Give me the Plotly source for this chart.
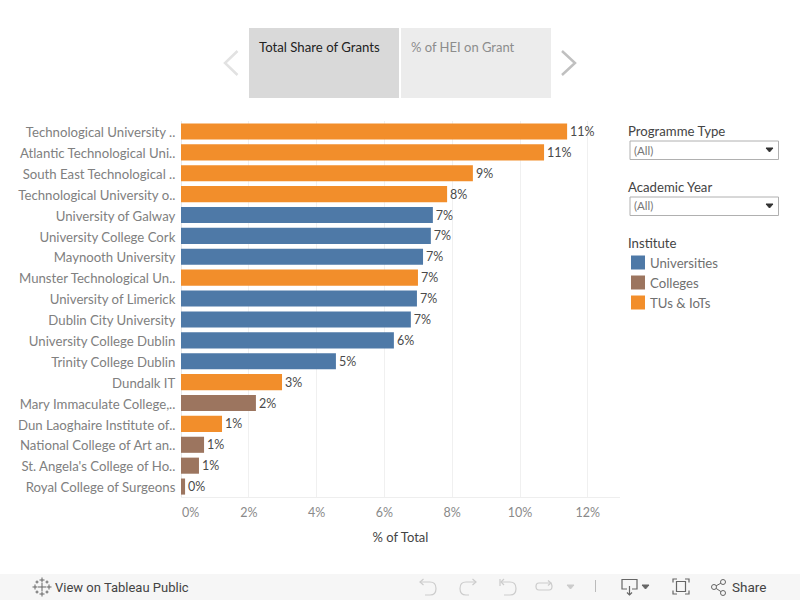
import plotly.graph_objects as go

institutes = ["Technological University ..", "Atlantic Technological Uni..", "South East Technological ..",
              "Technological University o..", "University of Galway", "University College Cork",
              "Maynooth University", "Munster Technological Un..", "University of Limerick",
              "Dublin City University", "University College Dublin", "Trinity College Dublin",
              "Dundalk IT", "Mary Immaculate College,..", "Dun Laoghaire Institute of..",
              "National College of Art an..", "St. Angela's College of Ho..", "Royal College of Surgeons"]
shares = [11.39, 10.71, 8.61, 7.85, 7.43, 7.37, 7.14, 6.99, 6.96, 6.78, 6.28, 4.57, 2.98, 2.21, 1.21, 0.68, 0.53, 0.12]
groups = ["T", "T", "T", "T", "U", "U", "U", "T", "U", "U", "U", "U", "T", "C", "T", "C", "C", "C"]
group_names = {"U": "Universities", "C": "Colleges", "T": "TUs & IoTs"}
group_colors = {"U": "#4e79a7", "C": "#9c755f", "T": "#f28e2b"}
x_ticks = [2, 4, 6, 8, 10, 12]

FONT = "Lato"
W, H = 800, 600
def X(p): return p / W
def Y(p): return 1 - p / H

fig = go.Figure()
for key in ["U", "C", "T"]:
    idx = [i for i, g in enumerate(groups) if g == key]
    fig.add_trace(go.Bar(
        y=[institutes[i] for i in idx], x=[shares[i] for i in idx], orientation="h",
        name=group_names[key], marker=dict(color=group_colors[key], line_width=0), width=0.77,
        texttemplate="%{x:.0f}%", textposition="outside", cliponaxis=False,
        textfont=dict(family=FONT, size=12.5, color="#4a4a4a"), showlegend=False))

shapes, notes = [], []
def rect(x0, y0, x1, y1, fill=None, line=None, lw=1):
    shapes.append(dict(type="rect", xref="paper", yref="paper", x0=X(x0), x1=X(x1), y0=Y(y0), y1=Y(y1),
                       fillcolor=fill or "rgba(0,0,0,0)", line=dict(color=line or "rgba(0,0,0,0)", width=lw if line else 0), layer="below"))
def poly(pts, color, lw=1.0, fill=None, close=False):
    d = "M" + " L".join(f"{X(a):.5f},{Y(b):.5f}" for a, b in pts) + (" Z" if close else "")
    shapes.append(dict(type="path", xref="paper", yref="paper", path=d, line=dict(color=color, width=lw),
                       fillcolor=fill or "rgba(0,0,0,0)"))
def curve(start, segs, color, lw=1.2):
    # segs: (cx, cy, x, y) quadratic pieces, or (x, y) straight pieces
    d = f"M{X(start[0]):.5f},{Y(start[1]):.5f}"
    for s in segs:
        if len(s) == 4:
            d += f" Q{X(s[0]):.5f},{Y(s[1]):.5f} {X(s[2]):.5f},{Y(s[3]):.5f}"
        else:
            d += f" L{X(s[0]):.5f},{Y(s[1]):.5f}"
    shapes.append(dict(type="path", xref="paper", yref="paper", path=d, line=dict(color=color, width=lw), fillcolor="rgba(0,0,0,0)"))
def text(x, y, s, color="#555555", size=13, anchor="left", family=FONT):
    notes.append(dict(xref="paper", yref="paper", x=X(x - 2), y=Y(y), text=s, showarrow=False, xanchor=anchor, yanchor="middle",
                      font=dict(family=family, size=size, color=color)))

# story navigator
rect(249, 28, 399, 98, "#d9d9d9")
rect(401, 28, 551, 98, "#ececec")
text(259, 47.5, "Total Share of Grants", "#222222", 13.2)
text(411, 47.5, "% of HEI on Grant", "#8c8c8c", 13)
poly([(237.5, 51), (225, 63), (237.5, 75)], "#e2e2e2", 2.5)
poly([(562, 51), (575, 63), (562, 75)], "#c0c0c0", 2.5)

# filters
text(628, 131, "Programme Type", "#444444", 13.2)
rect(630, 141, 778.5, 159.5, "#ffffff", "#b0b0b0")
text(634, 150, "(All)", "#777777", 11.5)
poly([(766, 148), (773, 148), (769.5, 152)], "#333333", 1, "#333333", True)
text(628, 187, "Academic Year", "#444444", 13.2)
rect(630, 197, 778.5, 215.5, "#ffffff", "#b0b0b0")
text(634, 206, "(All)", "#777777", 11.5)
poly([(766, 204), (773, 204), (769.5, 208)], "#333333", 1, "#333333", True)

# legend
text(628, 243, "Institute", "#444444", 13.2)
for k, ty in zip(["U", "C", "T"], [262.5, 282.5, 302.5]):
    rect(631, ty - 7, 645, ty + 7, group_colors[k])
    text(650, ty, group_names[k], "#707070", 13.2)

# toolbar
rect(0, 574, 800, 600, "#f6f6f6")
text(55, 587, "View on Tableau Public", "#444444", 13, family="Roboto")
text(732, 587, "Share", "#444444", 13.5, family="Roboto")
gr = "#cccccc"; dk = "#666666"
for cx, cy, r in [(42, 587, 4), (42, 580, 2.5), (42, 594, 2.5), (35, 587, 2.5), (49, 587, 2.5), (37, 582, 1.5), (47, 582, 1.5), (37, 592, 1.5), (47, 592, 1.5)]:
    poly([(cx - r, cy), (cx + r, cy)], dk, 1)
    poly([(cx, cy - r), (cx, cy + r)], dk, 1)
# undo
curve((420, 582), [(430, 582), (436, 582, 436, 588.5), (436, 595, 430, 595), (425, 595)], gr)
poly([(423.5, 579), (420, 582), (423.5, 585)], gr, 1.2)
# redo
curve((476, 582), [(466, 582), (460, 582, 460, 588.5), (460, 595, 466, 595), (469, 595)], gr)
poly([(472.5, 579), (476, 582), (472.5, 585)], gr, 1.2)
# undo all
curve((501, 582), [(510, 582), (516, 582, 516, 588.5), (516, 595, 510, 595), (504, 595)], gr)
poly([(504, 579), (501, 582), (504, 585)], gr, 1.2)
poly([(500, 579), (500, 586)], gr, 1.2)
# redo all
curve((551, 583), [(539, 583), (536, 583, 536, 586.5), (536, 590, 539, 590), (549, 590), (552, 590, 552, 586.5), (552, 585, 551, 583)], gr)
poly([(548, 580.5), (551, 583), (548, 585.5)], gr, 1.2)
poly([(567, 585), (574, 585), (570.5, 589)], gr, 1, gr, True)
poly([(595.5, 580), (595.5, 592)], "#bbbbbb", 1)
# download
poly([(627, 589), (622, 589), (622, 579.5), (637, 579.5), (637, 589), (632, 589)], dk, 1.2)
poly([(629.5, 586), (629.5, 595)], dk, 1.2)
poly([(627, 592.5), (629.5, 595), (632, 592.5)], dk, 1.2)
poly([(642, 585), (649, 585), (645.5, 589)], dk, 1, dk, True)
# fullscreen
rect(676.5, 581.5, 685.5, 591.5, None, dk, 1.2)
poly([(673, 582.5), (673, 579), (677, 579)], dk, 1.2)
poly([(685, 579), (689, 579), (689, 582.5)], dk, 1.2)
poly([(673, 590.5), (673, 594), (677, 594)], dk, 1.2)
poly([(685, 594), (689, 594), (689, 590.5)], dk, 1.2)
# share
poly([(714, 587), (723, 582)], dk, 1)
poly([(714, 587), (723, 593)], dk, 1)
for cx, cy in [(714, 587), (723, 582), (723, 593)]:
    shapes.append(dict(type="circle", xref="paper", yref="paper", x0=X(cx - 2.5), x1=X(cx + 2.5), y0=Y(cy + 2.5), y1=Y(cy - 2.5),
                       fillcolor="#f6f6f6", line=dict(color=dk, width=1)))

# the 0% label sits right of its tick in the reference
notes.append(dict(xref="x", yref="paper", x=0, y=Y(512.5), text="0%", showarrow=False, xshift=9.5, yanchor="middle",
                  font=dict(family=FONT, size=12.5, color="#8a8a8a")))

fig.update_layout(
    width=W, height=H, autosize=False, margin=dict(l=0, r=0, t=0, b=0),
    paper_bgcolor="#ffffff", plot_bgcolor="#ffffff", barmode="overlay", showlegend=False,
    shapes=shapes, annotations=notes,
    xaxis=dict(domain=[X(181), X(620)], range=[0, 12.95], tickmode="array", tickvals=[0] + x_ticks,
               ticktext=[""] + [f"{t}%" for t in x_ticks], showgrid=True, gridcolor="#f0f0f0", gridwidth=1,
               zeroline=True, zerolinecolor="#e8e8e8", zerolinewidth=1, showline=True, linecolor="#eeeeee",
               ticks="outside", ticklen=4, tickcolor="rgba(0,0,0,0)", tickfont=dict(family=FONT, size=12.5, color="#8a8a8a"),
               title=dict(text="% of Total", font=dict(family=FONT, size=13, color="#444444"), standoff=13), anchor="y", fixedrange=True),
    yaxis=dict(domain=[Y(497), Y(121)], type="category", categoryorder="array", categoryarray=institutes,
               range=[17.5, -0.5], showgrid=False, zeroline=False, showline=False, ticks="outside", ticklen=2,
               ticklabelshift=-1, tickcolor="rgba(0,0,0,0)", tickfont=dict(family=FONT, size=13.2, color="#808080"), fixedrange=True),
    bargap=0.23,
)
fig.write_html("out.html", config=dict(displayModeBar=False),
               post_script="document.body.style.margin='0';document.body.style.overflow='hidden';")
